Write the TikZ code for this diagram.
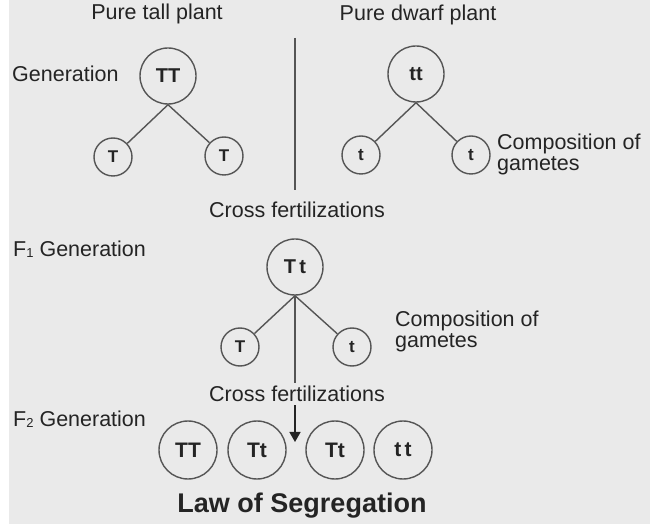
\documentclass[tikz,border=0pt]{standalone}
\usepackage{fontspec}
\setmainfont{Liberation Sans}
\usetikzlibrary{arrows.meta,positioning}
\definecolor{ink}{HTML}{242424}
\definecolor{ring}{HTML}{555555}
\definecolor{paper}{HTML}{EAEAEA}
\newcommand{\Fsub}[1]{F\raisebox{-1pt}{\fontsize{13}{13}\selectfont #1}}

\begin{document}
\begin{tikzpicture}[x=1pt, y=-1pt,
  >={Triangle[length=10pt,width=11pt]},
  txt/.style={font=\fontsize{21.5}{22}\selectfont, text=ink, inner sep=0pt},
  big/.style={circle, draw=ring, line width=1.4pt, minimum size=56pt, inner sep=0pt,
              font=\fontsize{20}{20}\selectfont\bfseries, text=ink},
  gam/.style={big, minimum size=38pt, font=\fontsize{17}{17}\selectfont\bfseries},
  kid/.style={big, minimum size=58pt, font=\fontsize{21}{21}\selectfont\bfseries},
  link/.style={draw=ring, line width=1.4pt},
  title/.style={font=\fontsize{27}{27}\selectfont\bfseries, text=ink, inner sep=0pt},
]
\useasboundingbox (0,0) rectangle (659,526);
\fill[paper] (9,0) rectangle (650,524);

% ============================================================ PARENTS
\node[txt, anchor=base] (tall)  at (157,20) {Pure tall plant};
\node[txt, anchor=base] (dwarf) at (418,21) {Pure dwarf plant};
\node[txt, anchor=base west] (gen) at (12,82) {Generation};

\coordinate (sepT) at (295,38);
\coordinate (sepB) at (295,190);
\draw[link] (sepT) -- (sepB);

\node[big] (TT) at (168,76) {TT};
\node[gam] (T1) at (113,157) {T};
\node[gam] (T2) at (224,156) {T};
\draw[link] (TT.south) -- (T1);
\draw[link] (TT.south) -- (T2);

\node[big] (tt) at (416,74) {tt};
\node[gam] (t1) at (361,155) {t};
\node[gam] (t2) at (471,155) {t};
\draw[link] (tt.south) -- (t1);
\draw[link] (tt.south) -- (t2);

\node[txt, anchor=base west] (compA) at (497,150) {Composition of};
\node[txt, anchor=base west] (gamA)  at (497,171) {gametes};

% ============================================================ F1
\node[txt, anchor=base] (cross1) at (297,218) {Cross fertilizations};
\node[txt, anchor=base west] (fone) at (13,257) {\Fsub{1} Generation};

\node[big] (Tt) at (295,267) {T\,t};
\node[gam] (g1) at (240,347) {T};
\node[gam] (g2) at (352,347) {t};
\draw[link] (Tt.south) -- (g1);
\draw[link] (Tt.south) -- (g2);

\node[txt, anchor=base west] (compB) at (395,327) {Composition of};
\node[txt, anchor=base west] (gamB)  at (395,348) {gametes};

% ============================================================ F2
\node[txt, anchor=base, inner sep=3pt] (cross2) at (297,402) {Cross fertilizations};
\node[txt, anchor=base west] (ftwo) at (13,427) {\Fsub{2} Generation};

\coordinate (tip) at (295,442);
\draw[link] (Tt.south) -- (cross2.north -| Tt.south);
\draw[link, draw=ink, ->] (cross2.south -| Tt.south) -- (tip);

\node[kid] (k1) at (188,450) {TT};
\node[kid] (k2) at (257,450) {Tt};
\node[kid] (k3) at (335,450) {Tt};
\node[kid] (k4) at (403,450) {t\,t};

\node[title, anchor=base] (law) at (302,513) {Law of Segregation};

\end{tikzpicture}
\end{document}
